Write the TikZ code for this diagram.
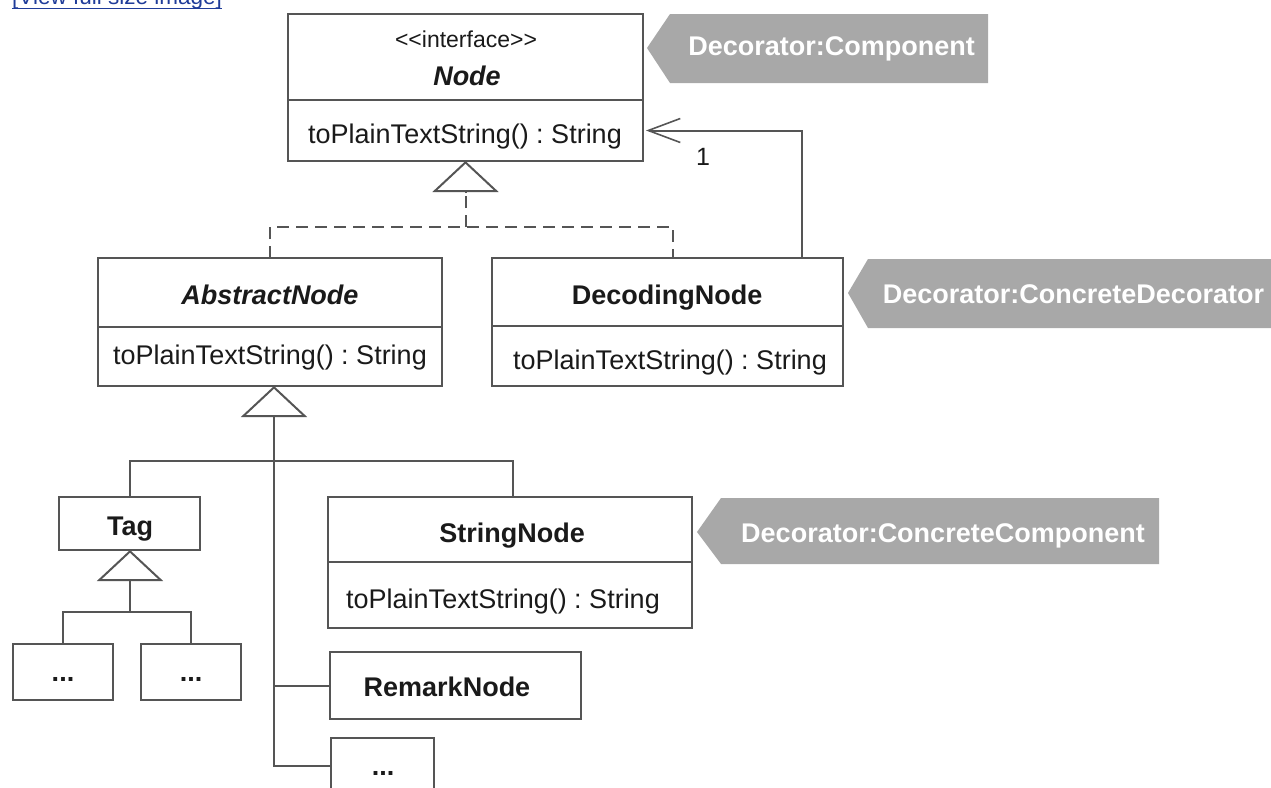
\documentclass[tikz,border=0pt]{standalone}
\usepackage{fontspec}
\setmainfont{Liberation Sans}
\usetikzlibrary{arrows.meta}
\definecolor{linec}{HTML}{555555}
\definecolor{tagc}{HTML}{A8A8A8}
\definecolor{textc}{HTML}{1A1A1A}
\definecolor{linkc}{HTML}{1F3C99}
\frenchspacing
\begin{document}
\begin{tikzpicture}[x=1pt,y=-1pt,
  box/.style={draw=linec, line width=2pt, fill=white, inner sep=0pt, outer sep=0pt, rectangle},
  txt/.style={inner sep=0pt, anchor=base, text=textc, font=\fontsize{27}{32}\selectfont},
  btxt/.style={txt, font=\fontsize{27}{32}\selectfont\bfseries},
  bitxt/.style={txt, font=\fontsize{27}{32}\selectfont\bfseries\itshape},
  tagtxt/.style={inner sep=0pt, anchor=base, text=white, font=\fontsize{27}{32}\selectfont\bfseries},
  conn/.style={draw=linec, line width=2pt},
  dashconn/.style={conn, dash pattern=on 12pt off 7pt},
  inh/.style={conn, -{Triangle[open, length=31pt, width=66pt]}},
  assoc/.style={conn, -{Straight Barb[length=32pt, width=24pt, line width=1.6pt]}, shorten >=3pt}
]
\fill[white] (0,0) rectangle (1271,787);
\useasboundingbox (0,0) rectangle (1271,787);

% cut-off link
\node[anchor=base west, inner sep=0pt, text=linkc, font=\fontsize{22.5}{27}\selectfont] (link) at (12,5) {[View full size image]};
\draw[linkc, line width=1.5pt] ([yshift=-3.5pt]link.base west) -- ([yshift=-3.5pt]link.base east);

% Node interface
\node[box, minimum width=355pt, minimum height=86pt] (nodeH) at (465.5,57) {};
\node[box, minimum width=355pt, minimum height=61pt] (nodeM) at (465.5,130.5) {};
\node[txt, font=\fontsize{23}{28}\selectfont] (nodeSt) at (466,47) {<{}<interface>{}>};
\node[bitxt] (nodeName) at (467,85) {Node};
\node[txt] (nodeOp) at (465,143) {toPlainTextString() : String};

% AbstractNode
\node[box, minimum width=344pt, minimum height=69pt] (absH) at (270,292.5) {};
\node[box, minimum width=344pt, minimum height=59pt] (absM) at (270,356.5) {};
\node[bitxt] (absName) at (270,304) {AbstractNode};
\node[txt] (absOp) at (270,364) {toPlainTextString() : String};

% DecodingNode
\node[box, minimum width=351pt, minimum height=68pt] (decH) at (667.5,292) {};
\node[box, minimum width=351pt, minimum height=60pt] (decM) at (667.5,356) {};
\node[btxt] (decName) at (667,304) {DecodingNode};
\node[txt] (decOp) at (670,369) {toPlainTextString() : String};

% StringNode
\node[box, minimum width=364pt, minimum height=65pt] (strH) at (510,529.5) {};
\node[box, minimum width=364pt, minimum height=66pt] (strM) at (510,595) {};
\node[btxt] (strName) at (512,542) {StringNode};
\node[txt] (strOp) at (503,608) {toPlainTextString() : String};

% Tag and subclasses
\node[box, minimum width=141pt, minimum height=53pt] (tag) at (129.5,523.5) {};
\node[btxt] (tagName) at (130,535) {Tag};
\node[box, minimum width=100pt, minimum height=56pt] (tA) at (63,672) {};
\node[box, minimum width=100pt, minimum height=56pt] (tB) at (191,672) {};
\node[btxt] (tAtxt) at (63,681) {...};
\node[btxt] (tBtxt) at (191,681) {...};

% RemarkNode and more
\node[box, minimum width=251pt, minimum height=67pt] (remark) at (455.5,685.5) {};
\node[btxt] (remarkName) at (447,696) {RemarkNode};
\node[box, minimum width=103pt, minimum height=56pt] (more) at (382.5,766) {};
\node[btxt] (moreTxt) at (383,775) {...};

% realization (dashed)
\coordinate (nT) at (465.5,193);
\coordinate (dj) at (465.5,227);
\coordinate (dX) at (673,0);
\draw[dashconn] (absH.north) |- (dj) -| (decH.north -| dX);
\draw[dashconn] (dj) -- (nT);
\draw[inh] (nT) -- (nodeM.south);

% association
\coordinate (aX) at (802,0);
\draw[assoc] (decH.north -| aX) |- (nodeM.east);
\node[txt, font=\fontsize{25}{30}\selectfont] (mult) at (703,165) {1};

% generalization from AbstractNode
\coordinate (aT) at (274,417);
\coordinate (bus) at (274,461);
\coordinate (sX) at (513,0);
\draw[inh] (aT) -- (absM.south -| aT);
\draw[conn] (aT) |- (more.west);
\draw[conn] (remark.west) -- (remark.west -| aT);
\draw[conn] (tag.north) |- (bus) -| (strH.north -| sX);

% generalization from Tag
\coordinate (tT) at (130,585);
\coordinate (tJ) at (130,612);
\draw[inh] (tT) -- (tag.south -| tT);
\draw[conn] (tA.north) |- (tJ) -| (tB.north);
\draw[conn] (tJ) -- (tT);

% pattern role tags
\fill[tagc] (647,48) -- (670,14) -- (988,14) -- (988,83) -- (670,83) -- cycle;
\node[tagtxt] (tagComp) at (831.5,55.5) {Decorator:Component};
\fill[tagc] (848,293) -- (868,259) -- (1285,259) -- (1285,328) -- (868,328) -- cycle;
\node[tagtxt] (tagDec) at (1073.5,303) {Decorator:ConcreteDecorator};
\fill[tagc] (697,532) -- (721,498) -- (1159,498) -- (1159,564) -- (721,564) -- cycle;
\node[tagtxt] (tagCC) at (943,542) {Decorator:ConcreteComponent};
\end{tikzpicture}
\end{document}
